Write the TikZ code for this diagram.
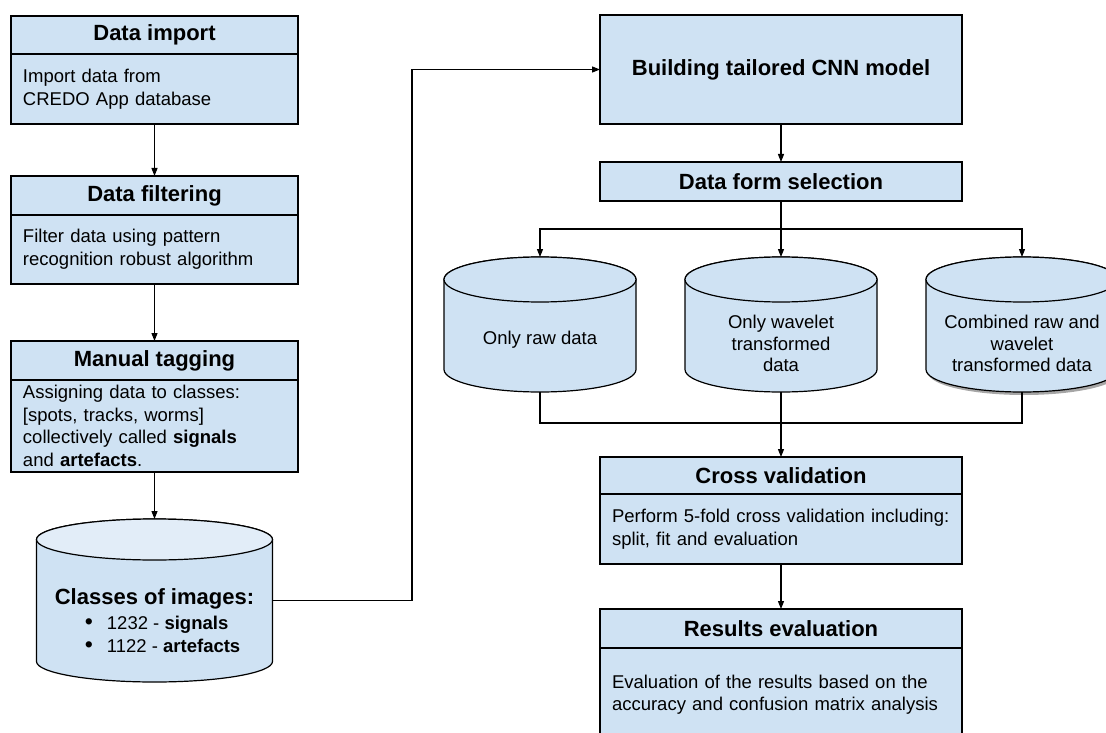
\documentclass[tikz,border=0pt]{standalone}
\usepackage{fontspec}
\setmainfont{Liberation Sans}
\usetikzlibrary{arrows.meta,positioning,backgrounds}
\definecolor{Box}{HTML}{CFE2F3}
\definecolor{BoxTop}{HTML}{E2EDF8}
\tikzset{
  arr/.style={-{Triangle[length=8pt,width=6pt]},line width=1.1pt,draw=black},
  link/.style={line width=1.1pt,draw=black},
  dbline/.style={line width=1.2pt,draw=black},
  headbox/.style={draw,line width=1.2pt,fill=Box,outer sep=0pt,inner sep=0pt,align=center,font=\fontsize{22}{26}\selectfont\bfseries},
  bodybox/.style={draw,line width=1.2pt,fill=Box,outer sep=0pt,inner xsep=12pt,inner ysep=0pt,align=left,font=\fontsize{18.5}{23}\selectfont},
  dbnode/.style={rectangle,outer sep=0pt,inner sep=0pt,minimum width=192pt,minimum height=135pt,font=\fontsize{18.5}{21.5}\selectfont}
}
% cylinder round a node: name, half width, end radius, end fill
\newcommand{\dbdraw}[4]{%
  \filldraw[dbline,fill=Box] ([yshift=-#3]#1.north west) -- ([yshift=#3]#1.south west)
    arc[start angle=180,end angle=360,x radius=#2,y radius=#3]
    -- ([yshift=-#3]#1.north east)
    arc[start angle=0,end angle=180,x radius=#2,y radius=#3] -- cycle;
  \filldraw[dbline,fill=#4] ([yshift=-#3]#1.north) ellipse[x radius=#2,y radius=#3];}
\newcommand{\dbshadow}[3]{%
  \fill[black,opacity=.35,transform canvas={shift={(2pt,-3pt)}}] ([yshift=-#3]#1.north west) -- ([yshift=#3]#1.south west)
    arc[start angle=180,end angle=360,x radius=#2,y radius=#3]
    -- ([yshift=-#3]#1.north east) -- cycle;}

\begin{document}
\begin{tikzpicture}[x=1pt,y=-1pt]
  \useasboundingbox (0,0) rectangle (1106,733);
  % left column
  \node[headbox,minimum width=287pt,minimum height=38pt] (imphead) at (154.5,35) {Data import};
  \node[bodybox,text width=263pt,minimum height=70pt,below=0pt of imphead] (impbody) {Import data from\\CREDO App database};
  \node[headbox,minimum width=287pt,minimum height=39pt] (filthead) at (154.5,195.5) {Data filtering};
  \node[bodybox,text width=263pt,minimum height=69pt,below=0pt of filthead] (filtbody) {Filter data using pattern\\recognition robust algorithm};
  \node[headbox,minimum width=287pt,minimum height=39pt] (taghead) at (154.5,360.5) {Manual tagging};
  \node[bodybox,text width=263pt,minimum height=92pt,below=0pt of taghead,font=\fontsize{18.5}{22.5}\selectfont] (tagbody) {Assigning data to classes:\\{}[spots, tracks, worms]\\collectively called \textbf{signals}\\and \textbf{artefacts}.};
  \node[dbnode,minimum width=236pt,minimum height=163pt,font=\fontsize{18.5}{23}\selectfont] (classes) at (154.5,600.5)
    {\raisebox{-28pt}[0pt][0pt]{\begin{tabular}{@{\hspace{30pt}}l@{\hspace{14pt}}l@{}}
      \multicolumn{2}{@{}c@{}}{\fontsize{22}{26}\selectfont\bfseries Classes of images:}\\[2pt]
      \scalebox{1.25}{\textbullet} & 1232 - \textbf{signals}\\
      \scalebox{1.25}{\textbullet} & 1122 - \textbf{artefacts}
    \end{tabular}}};
  % right column
  \node[headbox,minimum width=362pt,minimum height=109pt] (build) at (781,69.5) {Building tailored CNN model};
  \node[headbox,minimum width=362pt,minimum height=39pt] (formsel) at (781,181.5) {Data form selection};
  \node[dbnode] (rawdb) at (540,324.5) {\raisebox{-20pt}[0pt][0pt]{Only raw data}};
  \node[dbnode] (wavdb) at (781,324.5) {\raisebox{-26pt}[0pt][0pt]{\begin{tabular}{@{}c@{}}Only wavelet\\transformed\\data\end{tabular}}};
  \node[dbnode] (combdb) at (1022,324.5) {\raisebox{-26pt}[0pt][0pt]{\begin{tabular}{@{}c@{}}Combined raw and\\wavelet\\transformed data\end{tabular}}};
  \node[headbox,minimum width=362pt,minimum height=37pt] (cvhead) at (781,475.5) {Cross validation};
  \node[bodybox,text width=338pt,minimum height=70pt,below=0pt of cvhead] (cvbody) {Perform 5-fold cross validation including:\\split, fit and evaluation};
  \node[headbox,minimum width=362pt,minimum height=39pt] (reshead) at (781,628.5) {Results evaluation};
  \node[bodybox,text width=338pt,minimum height=94pt,below=0pt of reshead,font=\fontsize{18.5}{22}\selectfont] (resbody) {Evaluation of the results based on the\\accuracy and confusion matrix analysis};
  \begin{scope}[on background layer]
    \dbdraw{classes}{118pt}{20.5pt}{BoxTop}
    \dbdraw{rawdb}{96pt}{22.5pt}{Box}
    \dbdraw{wavdb}{96pt}{22.5pt}{Box}
    \dbshadow{combdb}{96pt}{22.5pt}
    \dbdraw{combdb}{96pt}{22.5pt}{Box}
  \end{scope}
  \coordinate (fork) at (781,229);
  \coordinate (merge) at (781,423);
  % connectors
  \draw[arr] (impbody) -- (filthead);
  \draw[arr] (filtbody) -- (taghead);
  \draw[arr] (tagbody) -- (classes);
  \draw[arr] (classes.east) -- ++(139.5,0) |- (build.west);
  \draw[arr] (build) -- (formsel);
  \draw[arr] (formsel) -- (wavdb);
  \draw[arr] (fork) -| (rawdb);
  \draw[arr] (fork) -| (combdb);
  \draw[link] (rawdb) |- (merge) -| (combdb);
  \draw[arr] (wavdb) -- (cvhead);
  \draw[arr] (cvbody) -- (reshead);
\end{tikzpicture}
\end{document}
